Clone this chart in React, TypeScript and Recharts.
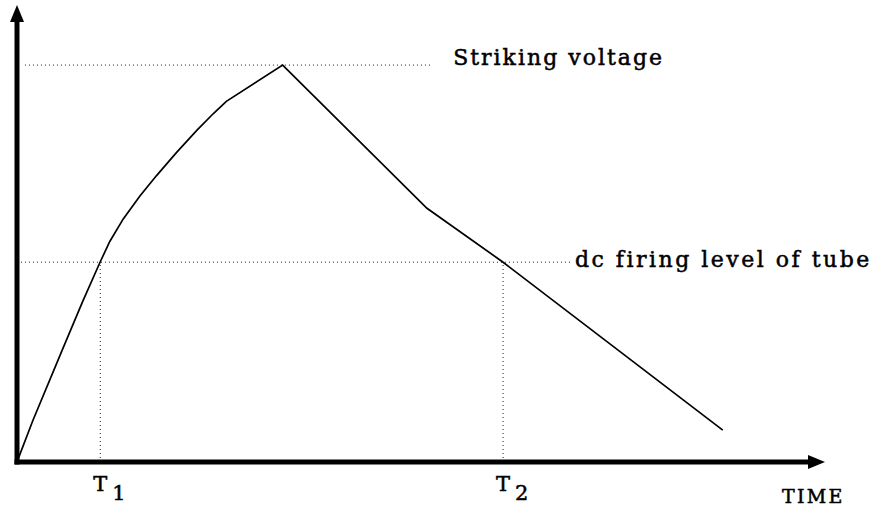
import React from 'react';
import { LineChart, Line, XAxis, YAxis, ReferenceLine, ReferenceDot } from 'recharts';

// Time values (arbitrary units, 0..100) and voltage (0..100)
const times = [0, 2.0, 5.7, 8.3, 10.5, 11.7, 13.4, 15.5, 17.6, 20.1, 22.7, 24.8, 26.4, 33.5, 51.7, 61.3, 89.0];
const voltage = [0, 9.4, 25.3, 36.4, 45.3, 49.9, 55.0, 60.2, 64.8, 70.0, 75.1, 78.9, 81.6, 89.8, 57.4, 45.2, 7.2];

const T1 = 10.5;
const T2 = 61.3;
const STRIKING = 89.8;
const DC_LEVEL = 45.2;
const STRIKE_LINE_END = 52.1;
const DC_LINE_END = 70.1;
const X_MAX = 100;
const Y_MAX = 100;

const tickValues = [T1, T2];
const tickLabels: Record<string, [string, string]> = {
  [String(T1)]: ['T', '1'],
  [String(T2)]: ['T', '2'],
};

const data = times.map((t, i) => ({ t, v: voltage[i] }));

const FONT = "'DejaVu Serif', serif";
const TXT = { fontFamily: FONT, fill: '#000', stroke: '#000', strokeWidth: 0.5 };

const TTick = (props: any) => {
  const { x, y, payload } = props;
  const parts = tickLabels[String(payload.value)] || ['', ''];
  return (
    <g>
      <text x={x} y={y + 29} textAnchor="middle" fontSize={21} {...TXT}>
        {parts[0]}
      </text>
      <text x={x + 12} y={y + 38} textAnchor="start" fontSize={21} {...TXT}>
        {parts[1]}
      </text>
    </g>
  );
};

const dotted = { stroke: '#222', strokeWidth: 1, strokeDasharray: '1 3' };

export default function App() {
  return (
    <div style={{ position: 'absolute', left: 0, top: 0, background: '#fff' }}>
      <LineChart width={876} height={506} data={data} margin={{ top: 20, right: 66, bottom: 0, left: 0 }}>
        <XAxis
          type="number"
          dataKey="t"
          domain={[0, X_MAX]}
          ticks={tickValues}
          tick={<TTick />}
          tickLine={false}
          tickSize={0}
          tickMargin={0}
          height={44}
          axisLine={{ stroke: '#000', strokeWidth: 5, strokeLinecap: 'square' }}
          allowDataOverflow
        />
        <YAxis
          type="number"
          domain={[0, Y_MAX]}
          tick={false}
          tickLine={false}
          width={17}
          axisLine={{ stroke: '#000', strokeWidth: 5, strokeLinecap: 'square' }}
          allowDataOverflow
        />
        <ReferenceLine segment={[{ x: 1, y: STRIKING }, { x: STRIKE_LINE_END, y: STRIKING }]} {...dotted} ifOverflow="visible" />
        <ReferenceLine segment={[{ x: 0.5, y: DC_LEVEL }, { x: DC_LINE_END, y: DC_LEVEL }]} {...dotted} ifOverflow="visible" />
        <ReferenceLine segment={[{ x: T1, y: 0 }, { x: T1, y: DC_LEVEL }]} {...dotted} ifOverflow="visible" />
        <ReferenceLine segment={[{ x: T2, y: 0 }, { x: T2, y: DC_LEVEL }]} {...dotted} ifOverflow="visible" />
        <Line
          type="linear"
          dataKey="v"
          stroke="#000"
          strokeWidth={1.7}
          dot={false}
          activeDot={false}
          isAnimationActive={false}
        />
        <ReferenceDot
          x={STRIKE_LINE_END}
          y={STRIKING}
          ifOverflow="visible"
          shape={(p: any) => (
            <text x={p.cx + 23} y={p.cy} fontSize={22} letterSpacing={2} {...TXT}>
              Striking voltage
            </text>
          )}
        />
        <ReferenceDot
          x={DC_LINE_END}
          y={DC_LEVEL}
          ifOverflow="visible"
          shape={(p: any) => (
            <text x={p.cx + 2} y={p.cy + 5} fontSize={22} letterSpacing={2.5} {...TXT}>
              dc firing level of tube
            </text>
          )}
        />
        <ReferenceDot
          x={X_MAX}
          y={0}
          ifOverflow="visible"
          shape={(p: any) => (
            <g>
              <polygon points={`${p.cx - 2},${p.cy - 7} ${p.cx + 15},${p.cy} ${p.cx - 2},${p.cy + 7}`} fill="#000" />
              <text x={p.cx - 28} y={p.cy + 41} fontSize={19} letterSpacing={2.3} {...TXT}>
                TIME
              </text>
            </g>
          )}
        />
        <ReferenceDot
          x={0}
          y={Y_MAX}
          ifOverflow="visible"
          shape={(p: any) => (
            <polygon points={`${p.cx - 7},${p.cy + 2} ${p.cx},${p.cy - 15} ${p.cx + 7},${p.cy + 2}`} fill="#000" />
          )}
        />
      </LineChart>
    </div>
  );
}
